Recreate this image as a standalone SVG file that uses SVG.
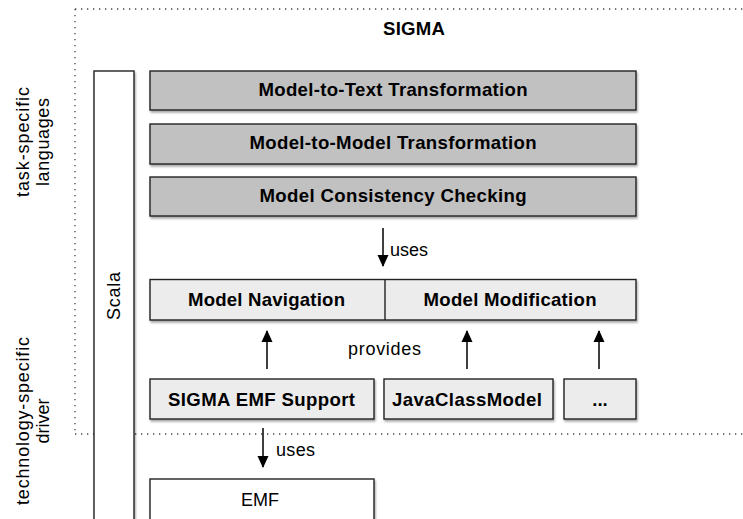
<svg xmlns="http://www.w3.org/2000/svg" width="743" height="519" viewBox="0 0 743 519">
<style>
text{font-family:"Liberation Sans",Arial,Helvetica,sans-serif;fill:#000}
.b{font-weight:bold;font-size:18.6px;text-anchor:middle}
.r{font-size:18px}
.c{text-anchor:middle}
.box{stroke:#222;stroke-width:1.4}
.dark{fill:#c1c1c1}
.light{fill:#ececec}
.white{fill:#fff}
.dot{fill:none;stroke:#444;stroke-width:1.3;stroke-dasharray:1.3 4.7}
.conn line{stroke:#000;stroke-width:1.5}
</style>
<defs>
<filter id="sh" x="-10%" y="-20%" width="130%" height="160%">
<feDropShadow dx="1" dy="2" stdDeviation="1.2" flood-color="#000" flood-opacity="0.35"/>
</filter>
<marker id="ah" viewBox="0 0 12 14" refX="11" refY="7" markerWidth="12" markerHeight="14" markerUnits="userSpaceOnUse" orient="auto">
<path d="M0,1.5 L12,7 L0,12.5 Z" fill="#000"/>
</marker>
</defs>

<g id="boundary">
<path class="dot" d="M75,9 H743 M75,9 V434 M75,434 H743"/>
<text class="b" x="414" y="35" textLength="62" lengthAdjust="spacing">SIGMA</text>
</g>

<g id="labels">
<text class="r c" transform="translate(29,142) rotate(-90)" textLength="110" lengthAdjust="spacing">task-specific</text>
<text class="r c" transform="translate(48.5,142) rotate(-90)" textLength="88" lengthAdjust="spacing">languages</text>
<text class="r c" transform="translate(29,421) rotate(-90)" textLength="168" lengthAdjust="spacing">technology-specific</text>
<text class="r c" transform="translate(48.5,421) rotate(-90)" textLength="45" lengthAdjust="spacing">driver</text>
</g>

<g id="scala">
<rect class="box white" x="94" y="71" width="40" height="460" filter="url(#sh)"/>
<text class="r c" transform="translate(120,296) rotate(-90)" textLength="48" lengthAdjust="spacing">Scala</text>
</g>

<g id="m2t">
<rect class="box dark" x="150" y="71" width="486" height="39" filter="url(#sh)"/>
<text class="b" x="393" y="96" textLength="269" lengthAdjust="spacing">Model-to-Text Transformation</text>
</g>
<g id="m2m">
<rect class="box dark" x="150" y="124" width="486" height="40" filter="url(#sh)"/>
<text class="b" x="393" y="149" textLength="287" lengthAdjust="spacing">Model-to-Model Transformation</text>
</g>
<g id="mcc">
<rect class="box dark" x="150" y="177" width="486" height="39" filter="url(#sh)"/>
<text class="b" x="393" y="202" textLength="267" lengthAdjust="spacing">Model Consistency Checking</text>
</g>

<g id="navmod">
<rect class="box light" x="150" y="279.5" width="486" height="40.5" filter="url(#sh)"/>
<line class="box" x1="385" y1="279.5" x2="385" y2="320"/>
<text class="b" x="266.5" y="305.5" textLength="157" lengthAdjust="spacing">Model Navigation</text>
<text class="b" x="510" y="305.5" textLength="173" lengthAdjust="spacing">Model Modification</text>
</g>

<g id="emfsupport">
<rect class="box light" x="150" y="379" width="224" height="40" filter="url(#sh)"/>
<text class="b" x="261.5" y="406" textLength="187" lengthAdjust="spacing">SIGMA EMF Support</text>
</g>
<g id="javaclassmodel">
<rect class="box light" x="384" y="379" width="169" height="40" filter="url(#sh)"/>
<text class="b" x="467" y="406" textLength="150" lengthAdjust="spacing">JavaClassModel</text>
</g>
<g id="more">
<rect class="box light" x="564" y="379" width="72" height="40" filter="url(#sh)"/>
<text class="b" x="600" y="406">...</text>
</g>

<g id="emf">
<rect class="box white" x="150" y="479" width="224" height="60" filter="url(#sh)"/>
<text class="r c" x="260" y="505.5">EMF</text>
</g>

<g id="connectors" class="conn">
<line x1="383" y1="228" x2="383" y2="266" marker-end="url(#ah)"/>
<line x1="267" y1="369" x2="267" y2="331" marker-end="url(#ah)"/>
<line x1="467" y1="369" x2="467" y2="331" marker-end="url(#ah)"/>
<line x1="599" y1="369" x2="599" y2="331" marker-end="url(#ah)"/>
<line x1="263" y1="428" x2="263" y2="467" marker-end="url(#ah)"/>
<text class="r" x="390" y="255.5" textLength="38" lengthAdjust="spacing">uses</text>
<text class="r" x="348" y="354.5" textLength="73" lengthAdjust="spacing">provides</text>
<text class="r" x="276" y="455.5" textLength="39" lengthAdjust="spacing">uses</text>
</g>
</svg>
